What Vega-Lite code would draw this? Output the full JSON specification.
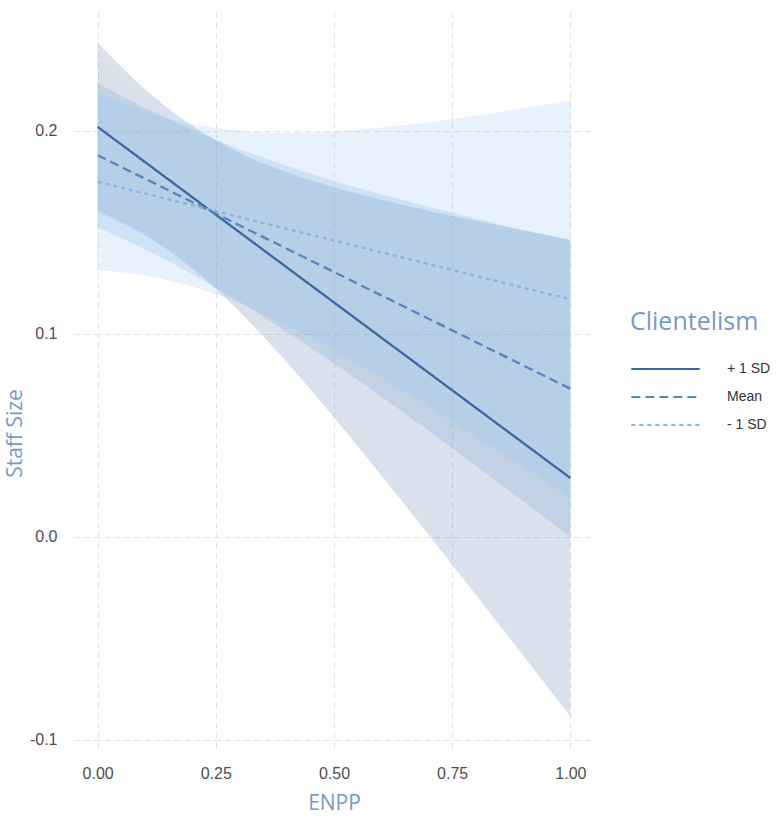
{
  "$schema": "https://vega.github.io/schema/vega-lite/v6.json",
  "autosize": {"type": "none"},
  "padding": {"left": 74, "top": 12, "right": 187, "bottom": 71},
  "width": 520,
  "height": 738,
  "background": "white",
  "config": {
    "view": {"stroke": null},
    "axis": {
      "domain": false,
      "ticks": false,
      "grid": true,
      "gridColor": "#e3e3e3",
      "gridDash": [6, 4],
      "gridWidth": 1,
      "labelFont": "Liberation Sans",
      "labelFontSize": 16,
      "labelColor": "#4d4d4d",
      "titleFont": "Open Sans",
      "titleFontWeight": "normal",
      "titleFontSize": 21,
      "titleColor": "#7898c8"
    },
    "legend": {
      "orient": "none",
      "legendX": 556,
      "legendY": 298,
      "titleFont": "Open Sans",
      "titleFontWeight": "normal",
      "titleFontSize": 25,
      "titleColor": "#7898c8",
      "titlePadding": 27,
      "labelFont": "Liberation Sans",
      "labelFontSize": 14,
      "labelColor": "#333333",
      "labelOffset": 83,
      "symbolType": "M-1,0H11",
      "symbolSize": 130,
      "symbolStrokeWidth": 2.2,
      "rowPadding": 14
    }
  },
  "data": {
    "values": [
      {"x": 0.0, "level": "+ 1 SD", "y": 0.202, "lo": 0.1605, "hi": 0.2435},
      {"x": 0.1, "level": "+ 1 SD", "y": 0.1847, "lo": 0.1487, "hi": 0.2207},
      {"x": 0.2, "level": "+ 1 SD", "y": 0.1674, "lo": 0.1323, "hi": 0.2025},
      {"x": 0.3, "level": "+ 1 SD", "y": 0.1501, "lo": 0.1110, "hi": 0.1892},
      {"x": 0.4, "level": "+ 1 SD", "y": 0.1328, "lo": 0.0860, "hi": 0.1796},
      {"x": 0.5, "level": "+ 1 SD", "y": 0.1155, "lo": 0.0588, "hi": 0.1722},
      {"x": 0.6, "level": "+ 1 SD", "y": 0.0982, "lo": 0.0303, "hi": 0.1661},
      {"x": 0.7, "level": "+ 1 SD", "y": 0.0809, "lo": 0.0011, "hi": 0.1607},
      {"x": 0.8, "level": "+ 1 SD", "y": 0.0636, "lo": -0.0285, "hi": 0.1557},
      {"x": 0.9, "level": "+ 1 SD", "y": 0.0463, "lo": -0.0584, "hi": 0.1510},
      {"x": 1.0, "level": "+ 1 SD", "y": 0.029, "lo": -0.0885, "hi": 0.1465},
      {"x": 0.0, "level": "Mean", "y": 0.188, "lo": 0.1525, "hi": 0.2235},
      {"x": 0.1, "level": "Mean", "y": 0.1765, "lo": 0.1417, "hi": 0.2113},
      {"x": 0.2, "level": "Mean", "y": 0.165, "lo": 0.1295, "hi": 0.2005},
      {"x": 0.3, "level": "Mean", "y": 0.1535, "lo": 0.1159, "hi": 0.1911},
      {"x": 0.4, "level": "Mean", "y": 0.142, "lo": 0.1011, "hi": 0.1829},
      {"x": 0.5, "level": "Mean", "y": 0.1305, "lo": 0.0855, "hi": 0.1755},
      {"x": 0.6, "level": "Mean", "y": 0.119, "lo": 0.0692, "hi": 0.1688},
      {"x": 0.7, "level": "Mean", "y": 0.1075, "lo": 0.0523, "hi": 0.1627},
      {"x": 0.8, "level": "Mean", "y": 0.096, "lo": 0.0351, "hi": 0.1569},
      {"x": 0.9, "level": "Mean", "y": 0.0845, "lo": 0.0177, "hi": 0.1513},
      {"x": 1.0, "level": "Mean", "y": 0.073, "lo": 0.0, "hi": 0.146},
      {"x": 0.0, "level": "- 1 SD", "y": 0.175, "lo": 0.1315, "hi": 0.2185},
      {"x": 0.1, "level": "- 1 SD", "y": 0.1692, "lo": 0.1288, "hi": 0.2096},
      {"x": 0.2, "level": "- 1 SD", "y": 0.1634, "lo": 0.1233, "hi": 0.2035},
      {"x": 0.3, "level": "- 1 SD", "y": 0.1576, "lo": 0.1151, "hi": 0.2001},
      {"x": 0.4, "level": "- 1 SD", "y": 0.1518, "lo": 0.1045, "hi": 0.1991},
      {"x": 0.5, "level": "- 1 SD", "y": 0.146, "lo": 0.0922, "hi": 0.1998},
      {"x": 0.6, "level": "- 1 SD", "y": 0.1402, "lo": 0.0787, "hi": 0.2017},
      {"x": 0.7, "level": "- 1 SD", "y": 0.1344, "lo": 0.0645, "hi": 0.2043},
      {"x": 0.8, "level": "- 1 SD", "y": 0.1286, "lo": 0.0496, "hi": 0.2076},
      {"x": 0.9, "level": "- 1 SD", "y": 0.1228, "lo": 0.0345, "hi": 0.2111},
      {"x": 1.0, "level": "- 1 SD", "y": 0.117, "lo": 0.019, "hi": 0.215}
    ]
  },
  "encoding": {
    "x": {
      "field": "x",
      "type": "quantitative",
      "scale": {"domain": [-0.05, 1.05], "nice": false, "zero": false},
      "axis": {
        "title": "ENPP",
        "values": [0, 0.25, 0.5, 0.75, 1],
        "format": ".2f",
        "labelPadding": 15,
        "titlePadding": 11
      }
    }
  },
  "layer": [
    {
      "mark": {"type": "area", "fillOpacity": 0.2, "interpolate": "monotone"},
      "encoding": {
        "y": {
          "field": "lo",
          "type": "quantitative",
          "scale": {"domain": [-0.105, 0.2586], "nice": false, "zero": false},
          "axis": {
            "title": "Staff Size",
            "values": [-0.1, 0, 0.1, 0.2],
            "labelExpr": "replace(format(datum.value, '.1f'), '\u2212', '-')",
            "labelPadding": 17,
            "titleX": -49,
            "titleY": 421
          }
        },
        "y2": {"field": "hi"},
        "fill": {
          "field": "level",
          "type": "nominal",
          "scale": {"domain": ["- 1 SD", "Mean", "+ 1 SD"], "range": ["#8cbef0", "#6495cf", "#416ea0"]},
          "legend": null
        }
      }
    },
    {
      "mark": {"type": "line", "strokeWidth": 2.3},
      "encoding": {
        "y": {"field": "y", "type": "quantitative"},
        "color": {
          "field": "level",
          "type": "nominal",
          "scale": {"domain": ["+ 1 SD", "Mean", "- 1 SD"], "range": ["#3a67a1", "#5784bd", "#88b2e2"]},
          "legend": {"title": "Clientelism"}
        },
        "strokeDash": {
          "field": "level",
          "type": "nominal",
          "scale": {"domain": ["+ 1 SD", "Mean", "- 1 SD"], "range": [[1, 0], [9, 5], [4, 4]]},
          "legend": {"title": "Clientelism"}
        }
      }
    }
  ]
}
